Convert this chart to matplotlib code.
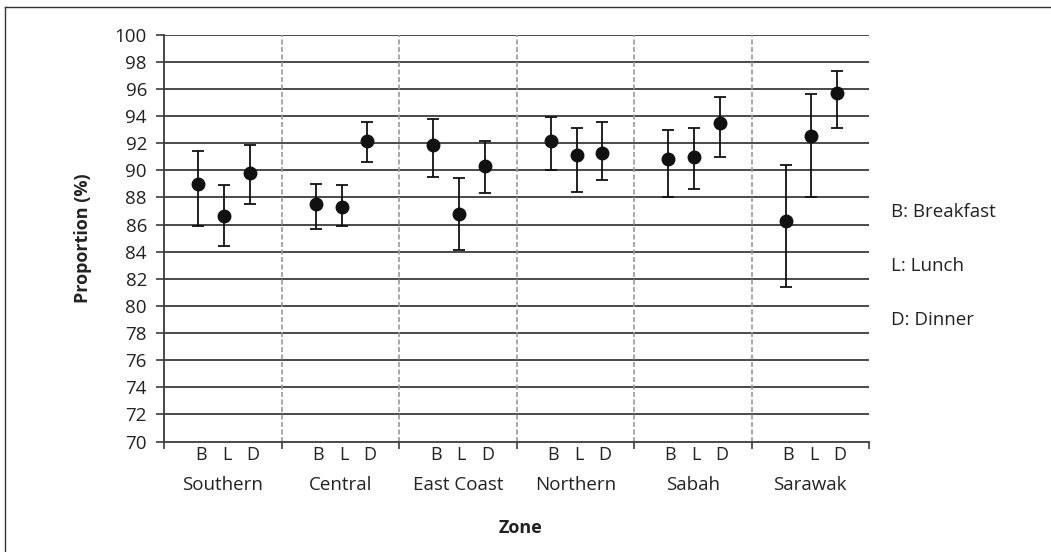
import numpy as np
import matplotlib
matplotlib.use("Agg")
import matplotlib.pyplot as plt
from matplotlib.lines import Line2D

# Zones and meals
zones = ["Southern", "Central", "East Coast", "Northern", "Sabah", "Sarawak"]
meals = ["B", "L", "D"]
meal_names = ["B: Breakfast", "L: Lunch", "D: Dinner"]

# Proportion (%) with 95% CI, rows = zones, columns = B, L, D
mean = [
    [89.0, 86.6, 89.8],
    [87.5, 87.3, 92.2],
    [91.9, 86.8, 90.3],
    [92.2, 91.1, 91.3],
    [90.8, 91.0, 93.5],
    [86.3, 92.5, 95.7],
]
lower = [
    [85.9, 84.4, 87.5],
    [85.7, 85.9, 90.6],
    [89.5, 84.1, 88.3],
    [90.0, 88.4, 89.3],
    [88.0, 88.6, 91.0],
    [81.4, 88.0, 93.1],
]
upper = [
    [91.4, 88.9, 91.9],
    [89.0, 88.9, 93.6],
    [93.8, 89.4, 92.2],
    [93.9, 93.1, 93.6],
    [93.0, 93.1, 95.4],
    [90.4, 95.6, 97.3],
]

plt.rcParams['font.family'] = ['Open Sans', 'DejaVu Sans']

fig = plt.figure(figsize=(10.51, 5.52), dpi=100)
ax = fig.add_axes([0.1563, 0.2, 0.6705, 0.7371])

offsets = [0.29, 0.51, 0.73]
grid_c = "#3c3c3c"
text_c = "#222222"

m = np.array(mean)
lo = np.array(lower)
hi = np.array(upper)
xs = np.array([[i + o for o in offsets] for i in range(len(zones))])

# horizontal gridlines
for v in range(72, 101, 2):
    ax.axhline(v, color=grid_c, lw=1.3, zorder=1)

# dashed zone dividers
for i in range(1, len(zones)):
    ax.axvline(i, color="#9a9a9a", lw=1.2, ls=(0, (3, 1.5)), zorder=1)

ax.errorbar(xs.ravel(), m.ravel(),
            yerr=[(m - lo).ravel(), (hi - m).ravel()],
            fmt="o", color="#111111", ecolor="#111111", ms=9,
            elinewidth=1.3, capsize=4.3, capthick=1.3, zorder=3)

ax.set_xlim(0, len(zones))
ax.set_ylim(70, 100)
ax.set_yticks(range(70, 101, 2))
ax.tick_params(axis="y", direction="out", length=5.5, width=1.2,
               color=grid_c, labelcolor=text_c, labelsize=13.5, pad=7)

# major ticks at group boundaries, minor ticks carry B/L/D labels
ax.set_xticks(range(len(zones) + 1))
ax.set_xticklabels([])
ax.tick_params(axis="x", which="major", direction="out", length=5,
               width=1.2, color=grid_c)
ax.set_xticks(xs.ravel() + 0.02, minor=True)
ax.set_xticklabels(meals * len(zones), minor=True)
ax.tick_params(axis="x", which="minor", length=0, labelsize=13,
               labelcolor=text_c, pad=3)

for i, z in enumerate(zones):
    ax.text(i + 0.5, -0.107, z, transform=ax.get_xaxis_transform(),
            ha="center", va="center", fontsize=13.5, color=text_c)

for s in ["top", "right"]:
    ax.spines[s].set_visible(False)
for s in ["left", "bottom"]:
    ax.spines[s].set_color(grid_c)
    ax.spines[s].set_linewidth(1.3)

ax.set_ylabel("Proportion (%)", fontsize=13, fontweight="bold",
              labelpad=16, color=text_c)
fig.text(0.495, 1 - 528 / 552, "Zone", ha="center", va="center",
         fontsize=13, fontweight="bold", color=text_c)

for k, name in enumerate(meal_names):
    fig.text(891 / 1051, 1 - (212 + 54 * k) / 552, name, ha="left",
             va="center", fontsize=13.5, color=text_c)

# outer frame (left and top edges visible)
fig.add_artist(Line2D([5 / 1051, 5 / 1051], [0, 1 - 7 / 552],
                      transform=fig.transFigure, color="#333333", lw=1))
fig.add_artist(Line2D([5 / 1051, 1], [1 - 7 / 552, 1 - 7 / 552],
                      transform=fig.transFigure, color="#333333", lw=1))

fig.savefig("out.png", dpi=100)
